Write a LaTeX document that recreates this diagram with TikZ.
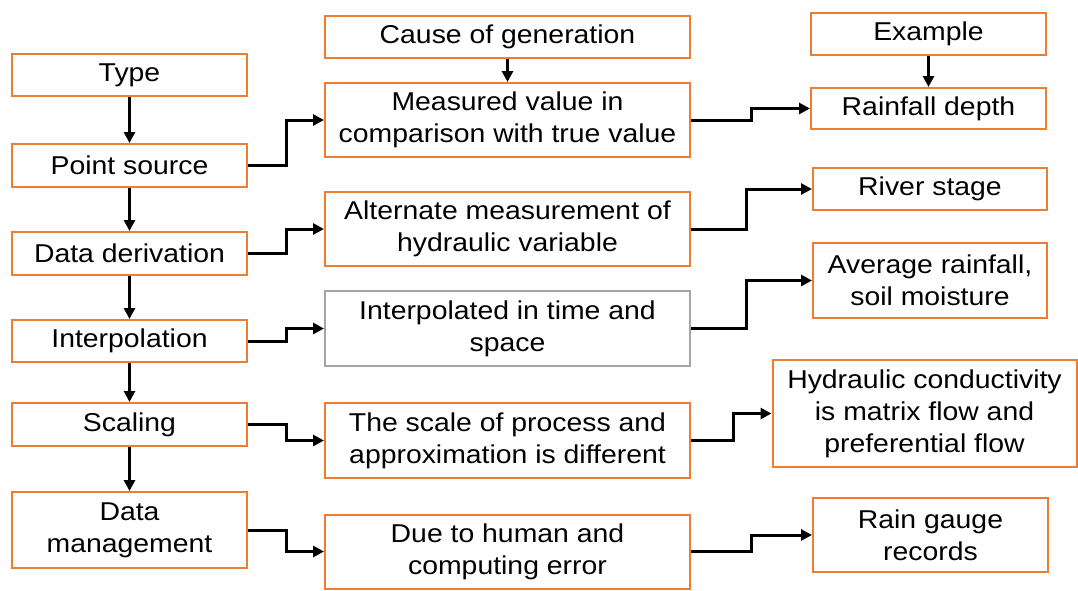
\documentclass[tikz,border=0pt]{standalone}
\usepackage{fontspec}
\setmainfont{Liberation Sans}[FakeStretch=1.1]
\usetikzlibrary{arrows.meta}
\definecolor{boxorange}{RGB}{237,125,49}
\definecolor{boxgray}{RGB}{165,165,165}
\begin{document}
\begin{tikzpicture}[x=1pt,y=-1pt,
  box/.style={draw=boxorange,line width=2pt,fill=white,rectangle,inner sep=0pt,align=center,
    font=\fontsize{25.8}{32}\selectfont},
  graybox/.style={box,draw=boxgray},
  arr/.style={line width=3pt,-{Triangle[length=11pt,width=11pt]}}]
\useasboundingbox (0,0) rectangle (1078,590);
\fill[white] (0,0) rectangle (1078,590);
% left column
\node[box,minimum width=235,minimum height=42] (type) at (129.5,75) {Type};
\node[box,minimum width=235,minimum height=43] (point) at (129.5,165.5) {Point source};
\node[box,minimum width=235,minimum height=43] (deriv) at (129.5,253.5) {Data derivation};
\node[box,minimum width=235,minimum height=42] (interp) at (129.5,341) {Interpolation};
\node[box,minimum width=235,minimum height=43] (scaling) at (129.5,424.5) {Scaling};
\node[box,minimum width=235,minimum height=76] (mgmt) at (129.5,530) {Data\\management};
% middle column
\node[box,minimum width=365,minimum height=42] (cause) at (507.5,37) {Cause of generation};
\node[box,minimum width=365,minimum height=74] (measured) at (507.5,120) {Measured value in\\comparison with true value};
\node[box,minimum width=365,minimum height=74] (alternate) at (507.5,229) {Alternate measurement of\\hydraulic variable};
\node[graybox,minimum width=365,minimum height=75] (interpolated) at (507.5,328.5) {Interpolated in time and\\space};
\node[box,minimum width=365,minimum height=75] (scale) at (507.5,440.5) {The scale of process and\\approximation is different};
\node[box,minimum width=365,minimum height=74] (human) at (507.5,551.5) {Due to human and\\computing error};
% right column
\node[box,minimum width=235,minimum height=42] (example) at (928.5,34) {Example};
\node[box,minimum width=235,minimum height=41] (rainfall) at (928.5,108.5) {Rainfall depth};
\node[box,minimum width=234,minimum height=42] (river) at (930,189) {River stage};
\node[box,minimum width=234,minimum height=75] (average) at (930,280.5) {Average rainfall,\\soil moisture};
\node[box,minimum width=304,minimum height=107] (hydraulic) at (924.5,413.5) {Hydraulic conductivity\\is matrix flow and\\preferential flow};
\node[box,minimum width=235,minimum height=74] (gauge) at (930.5,535) {Rain gauge\\records};
% vertical arrows
\draw[arr] (type) -- (point);
\draw[arr] (point) -- (deriv);
\draw[arr] (deriv) -- (interp);
\draw[arr] (interp) -- (scaling);
\draw[arr] (scaling) -- (mgmt);
\draw[arr] (cause) -- (measured);
\draw[arr] (example) -- (rainfall);
% left to middle
\draw[arr] (point.east) -- ++(38,0) |- (measured.west);
\draw[arr] (deriv.east) -- ++(38,0) |- (alternate.west);
\draw[arr] (interp.east) -- ++(38,0) |- (interpolated.west);
\draw[arr] (scaling.east) -- ++(38,0) |- (scale.west);
\draw[arr] (mgmt.east) -- ++(38,0) |- (human.west);
% middle to right
\draw[arr] (measured.east) -- ++(60,0) |- (rainfall.west);
\draw[arr] (alternate.east) -- ++(55,0) |- (river.west);
\draw[arr] (interpolated.east) -- ++(55,0) |- (average.west);
\draw[arr] (scale.east) -- ++(42,0) |- (hydraulic.west);
\draw[arr] (human.east) -- ++(60,0) |- (gauge.west);
\end{tikzpicture}
\end{document}
